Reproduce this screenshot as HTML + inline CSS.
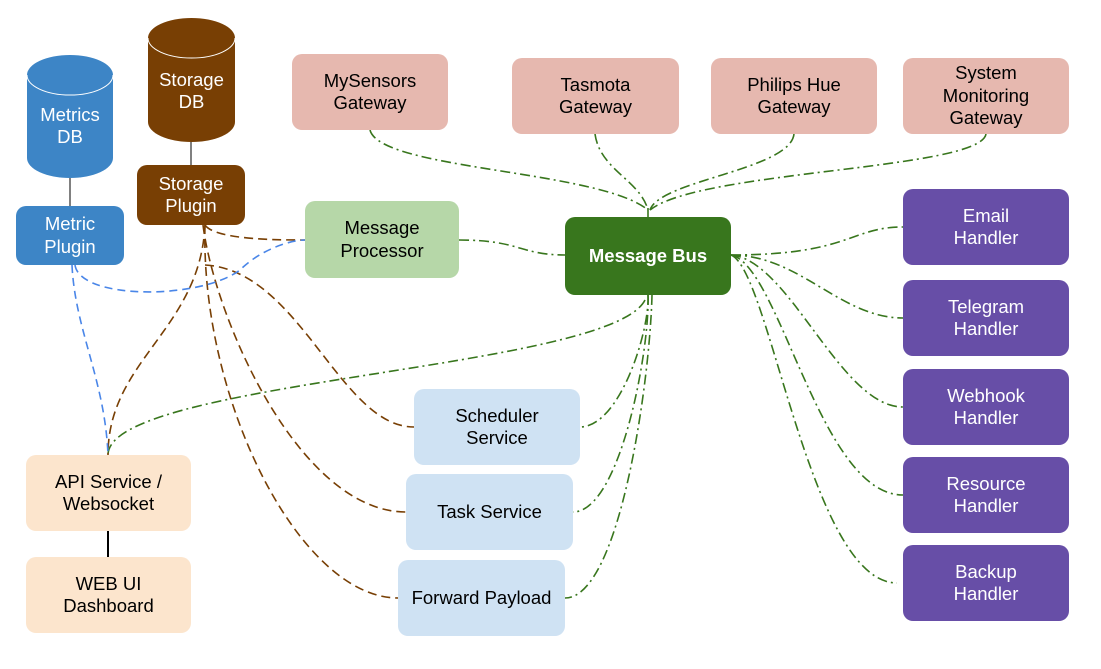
<!DOCTYPE html>
<html><head><style>
body{margin:0;background:#fff;width:1101px;height:669px;overflow:hidden;font-family:"Liberation Sans",Arial,sans-serif}
.b{position:absolute;border-radius:10px;display:flex;align-items:center;justify-content:center;text-align:center;font-size:18.5px;line-height:22.5px;box-sizing:border-box}
.g{background:#e6b8af;color:#000}
.h{background:#674ea7;color:#fff}
.s{background:#cfe2f3;color:#000}
.o{background:#fce5cd;color:#000}
</style></head><body>
<svg width="1101" height="669" style="position:absolute;left:0;top:0">
<path d="M27,75 L27,158 A43,20 0 0 0 113,158 L113,75 A43,20 0 0 0 27,75Z" fill="#3d85c6"/>
<path d="M27,75 A43,20 0 0 0 113,75" fill="none" stroke="#fff" stroke-width="1"/>
<path d="M148,38 L148,122 A43.5,20 0 0 0 235,122 L235,38 A43.5,20 0 0 0 148,38Z" fill="#783f04"/>
<path d="M148,38 A43.5,20 0 0 0 235,38" fill="none" stroke="#fff" stroke-width="1"/>
<line x1="70" y1="178" x2="70" y2="206" stroke="#000"/>
<line x1="191" y1="142" x2="191" y2="165" stroke="#000"/>
<line x1="108" y1="531" x2="108" y2="557" stroke="#000" stroke-width="2"/>
<g fill="none" stroke="#38761d" stroke-width="1.6" stroke-dasharray="10,4,2,4">
<path d="M370,130 C380,170 600,170 648,210"/>
<path d="M595,134 C600,170 640,180 648,210"/>
<path d="M794,134 C790,170 660,180 650,210"/>
<path d="M986,134 C980,170 700,170 650,210"/>
<line x1="648" y1="208" x2="648" y2="217"/>
<path d="M459,240 C520,240 520,255 565,255"/>
<path d="M731,255 C850,255 850,227 903,227"/>
<path d="M731,255 C800,255 840,318 903,318"/>
<path d="M731,255 C790,260 840,407 903,407"/>
<path d="M731,255 C780,265 820,495 903,495"/>
<path d="M731,255 C770,270 810,583 897,583"/>
<path d="M648,295 C650,330 620,427 580,427"/>
<path d="M648,295 C650,350 620,512 573,512"/>
<path d="M652,295 C650,380 620,598 565,598"/>
<path d="M645,300 C610,370 108,380 108,455"/>
</g>
<g fill="none" stroke="#783f04" stroke-width="1.6" stroke-dasharray="9,5">
<path d="M205,225 C215,240 280,240 305,240"/>
<path d="M205,225 C200,330 108,360 108,455"/>
<path d="M205,265 C300,270 340,427 414,427"/>
<path d="M203,225 C215,320 300,512 406,512"/>
<path d="M205,225 C200,400 300,598 398,598"/>
</g>
<g fill="none" stroke="#4a86e8" stroke-width="1.6" stroke-dasharray="8,5">
<path d="M75,265 C80,300 200,300 240,270 C260,250 290,240 305,240"/>
<path d="M72,265 C75,330 105,380 108,455"/>
</g>
</svg>
<div class="b" style="left:27px;top:101px;width:86px;height:50px;color:#fff;background:none">Metrics<br>DB</div>
<div class="b" style="left:148px;top:66px;width:87px;height:50px;color:#fff;background:none">Storage<br>DB</div>
<div class="b" style="left:16px;top:206px;width:108px;height:59px;background:#3d85c6;color:#fff">Metric<br>Plugin</div>
<div class="b" style="left:137px;top:165px;width:108px;height:60px;background:#783f04;color:#fff">Storage<br>Plugin</div>
<div class="b" style="left:305px;top:201px;width:154px;height:77px;background:#b6d7a8">Message<br>Processor</div>
<div class="b g" style="left:292px;top:54px;width:156px;height:76px">MySensors<br>Gateway</div>
<div class="b g" style="left:512px;top:58px;width:167px;height:76px">Tasmota<br>Gateway</div>
<div class="b g" style="left:711px;top:58px;width:166px;height:76px">Philips Hue<br>Gateway</div>
<div class="b g" style="left:903px;top:58px;width:166px;height:76px">System<br>Monitoring<br>Gateway</div>
<div class="b" style="left:565px;top:217px;width:166px;height:78px;background:#38761d;color:#fff;font-weight:bold">Message Bus</div>
<div class="b h" style="left:903px;top:189px;width:166px;height:76px">Email<br>Handler</div>
<div class="b h" style="left:903px;top:280px;width:166px;height:76px">Telegram<br>Handler</div>
<div class="b h" style="left:903px;top:369px;width:166px;height:76px">Webhook<br>Handler</div>
<div class="b h" style="left:903px;top:457px;width:166px;height:76px">Resource<br>Handler</div>
<div class="b h" style="left:903px;top:545px;width:166px;height:76px">Backup<br>Handler</div>
<div class="b s" style="left:414px;top:389px;width:166px;height:76px">Scheduler<br>Service</div>
<div class="b s" style="left:406px;top:474px;width:167px;height:76px">Task Service</div>
<div class="b s" style="left:398px;top:560px;width:167px;height:76px">Forward Payload</div>
<div class="b o" style="left:26px;top:455px;width:165px;height:76px">API Service /<br>Websocket</div>
<div class="b o" style="left:26px;top:557px;width:165px;height:76px">WEB UI<br>Dashboard</div>
</body></html>
